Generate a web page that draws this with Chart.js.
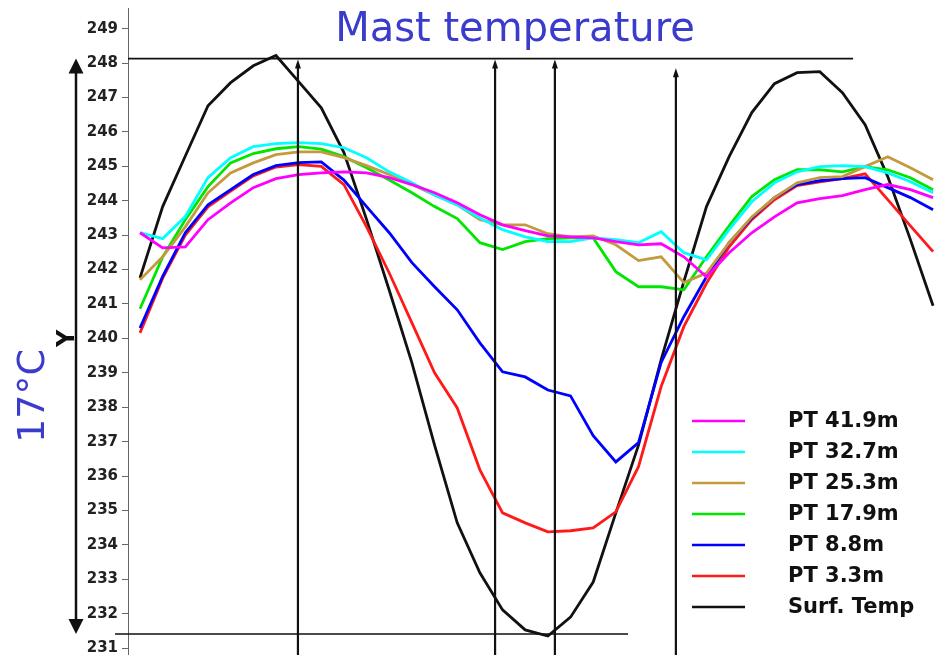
<!DOCTYPE html>
<html>
<head>
<meta charset="utf-8">
<title>Mast temperature</title>
<script src="https://cdn.jsdelivr.net/npm/chart.js@4/dist/chart.umd.min.js"></script>
<style>
  html, body { margin: 0; padding: 0; background: #fff; }
  #wrap { position: relative; width: 941px; height: 655px; }
</style>
</head>
<body>
<div id="wrap"><canvas id="chart"></canvas></div>
<script>
// sample index along the time axis
const steps = [0, 1, 2, 3, 4, 5, 6, 7, 8, 9, 10, 11, 12, 13, 14, 15, 16, 17,
  18, 19, 20, 21, 22, 23, 24, 25, 26, 27, 28, 29, 30, 31, 32, 33, 34, 35];

const yTicks = [231, 232, 233, 234, 235, 236, 237, 238, 239, 240, 241, 242, 243, 244, 245, 246, 247, 248, 249];

const pt419 = [243.07, 242.63, 242.66, 243.45, 243.94, 244.38, 244.64, 244.76, 244.81, 244.84, 244.81, 244.67,
  244.47, 244.23, 243.94, 243.59, 243.3, 243.13, 242.98, 242.95, 242.92, 242.81, 242.72, 242.75,
  242.37, 241.79, 242.49, 243.07, 243.53, 243.94, 244.06, 244.15, 244.32, 244.47, 244.32, 244.09];
const pt327 = [243.07, 242.9, 243.54, 244.67, 245.25, 245.57, 245.66, 245.69, 245.66, 245.54, 245.25, 244.84,
  244.52, 244.17, 243.88, 243.5, 243.16, 242.95, 242.81, 242.81, 242.92, 242.87, 242.78, 243.1,
  242.49, 242.28, 243.16, 243.97, 244.52, 244.84, 244.99, 245.02, 244.99, 244.81, 244.55, 244.23];
const pt253 = [241.7, 242.37, 243.24, 244.23, 244.81, 245.1, 245.34, 245.42, 245.42, 245.25, 245.02, 244.76,
  244.47, 244.17, 243.88, 243.45, 243.3, 243.3, 243.04, 242.95, 242.98, 242.72, 242.26, 242.37,
  241.62, 241.9, 242.78, 243.53, 244.09, 244.52, 244.67, 244.7, 244.99, 245.28, 244.96, 244.61];
const pt179 = [240.86, 242.37, 243.45, 244.41, 245.1, 245.37, 245.51, 245.57, 245.5, 245.28, 244.96, 244.6,
  244.23, 243.83, 243.48, 242.78, 242.58, 242.81, 242.9, 242.92, 242.92, 241.94, 241.5, 241.5,
  241.41, 242.37, 243.27, 244.12, 244.61, 244.9, 244.9, 244.84, 244.99, 244.9, 244.67, 244.32];
const pt88 = [240.3, 241.8, 243.07, 243.88, 244.32, 244.76, 245.02, 245.11, 245.13, 244.6, 243.83, 243.07,
  242.2, 241.5, 240.83, 239.87, 239.03, 238.88, 238.5, 238.33, 237.17, 236.41, 236.97, 239.3,
  240.63, 241.79, 242.78, 243.5, 244.09, 244.47, 244.58, 244.64, 244.67, 244.38, 244.09, 243.74];
const pt33 = [240.16, 241.75, 243.0, 243.82, 244.28, 244.72, 244.98, 245.05, 245.0, 244.47, 243.24, 241.9,
  240.45, 239.0, 237.98, 236.18, 234.93, 234.64, 234.38, 234.41, 234.49, 234.96, 236.27, 238.6,
  240.34, 241.6, 242.66, 243.45, 244.03, 244.44, 244.55, 244.64, 244.78, 244.03, 243.27, 242.52];
const surfTemp = [241.76, 243.83, 245.3, 246.76, 247.43, 247.92, 248.22, 247.46, 246.7, 245.4, 243.45, 241.4,
  239.29, 236.9, 234.64, 233.19, 232.11, 231.53, 231.35, 231.9, 232.92, 234.93, 236.9, 239.38,
  241.65, 243.83, 245.28, 246.56, 247.4, 247.72, 247.75, 247.14, 246.21, 244.7, 242.87, 240.95];

const labels = ['PT 41.9m', 'PT 32.7m', 'PT 25.3m', 'PT 17.9m', 'PT 8.8m', 'PT 3.3m', 'Surf. Temp'];
const colors = ['#ff00ff', '#00ffff', '#c39a3e', '#00e600', '#0000ff', '#ff1a1a', '#111111'];
const series = [pt419, pt327, pt253, pt179, pt88, pt33, surfTemp];

// marker lines (x in sample index, y in axis units)
const markerX = [6.97, 15.67, 18.31, 23.65];
const markerTop = [248.1, 248.1, 248.1, 247.85];
const maxLevel = 248.13, maxLineEnd = 31.47;
const minLevel = 231.41, minLineEnd = 21.54;

const BLUE = '#3b3bcc';

function pts(values) {
  return values.map((v, i) => ({ x: steps[i], y: v }));
}

function arrowHead(ctx, x, y, w, h, dir) {
  ctx.beginPath();
  ctx.moveTo(x, y);
  ctx.lineTo(x - w / 2, y + dir * h);
  ctx.lineTo(x + w / 2, y + dir * h);
  ctx.closePath();
  ctx.fill();
}

const annotations = {
  id: 'annotations',
  afterDatasetsDraw(chart) {
    const ctx = chart.ctx;
    const xs = chart.scales.x, ys = chart.scales.y;
    const area = chart.chartArea;
    ctx.save();
    ctx.strokeStyle = '#111';
    ctx.fillStyle = '#111';

    // horizontal max / min lines
    ctx.lineWidth = 1.6;
    ctx.beginPath();
    ctx.moveTo(area.left, ys.getPixelForValue(maxLevel));
    ctx.lineTo(xs.getPixelForValue(maxLineEnd), ys.getPixelForValue(maxLevel));
    ctx.moveTo(area.left - 13, ys.getPixelForValue(minLevel));
    ctx.lineTo(xs.getPixelForValue(minLineEnd), ys.getPixelForValue(minLevel));
    ctx.stroke();

    // vertical markers with small arrows
    ctx.lineWidth = 2.2;
    markerX.forEach((mx, k) => {
      const px = xs.getPixelForValue(mx);
      const top = ys.getPixelForValue(markerTop[k]);
      ctx.beginPath();
      ctx.moveTo(px, top + 4);
      ctx.lineTo(px, area.bottom);
      ctx.stroke();
      arrowHead(ctx, px, top, 6, 9, 1);
    });

    // big range arrow
    const ax = 76;
    const aTop = ys.getPixelForValue(maxLevel);
    const aBot = ys.getPixelForValue(minLevel);
    ctx.lineWidth = 2.5;
    ctx.beginPath();
    ctx.moveTo(ax, aTop + 10);
    ctx.lineTo(ax, aBot - 10);
    ctx.stroke();
    arrowHead(ctx, ax, aTop, 15, 15, 1);
    arrowHead(ctx, ax, aBot, 15, 15, -1);

    // axis name
    ctx.font = 'bold 24px "DejaVu Sans"';
    ctx.textAlign = 'center';
    ctx.textBaseline = 'middle';
    ctx.save();
    ctx.translate(68, ys.getPixelForValue(240));
    ctx.rotate(-Math.PI / 2);
    ctx.fillText('Y', 0, 0);
    ctx.restore();

    // title and range text
    ctx.fillStyle = BLUE;
    ctx.font = '40px "Comic Sans MS", "DejaVu Sans"';
    ctx.textBaseline = 'alphabetic';
    ctx.fillText('Mast temperature', 515, 41);
    ctx.save();
    ctx.translate(34, 396);
    ctx.rotate(-Math.PI / 2);
    ctx.font = '38px "Comic Sans MS", "DejaVu Sans"';
    ctx.textBaseline = 'middle';
    ctx.fillText('17°C', 0, 0);
    ctx.restore();

    // legend
    ctx.font = 'bold 21px "DejaVu Sans"';
    ctx.textAlign = 'left';
    ctx.textBaseline = 'middle';
    chart.data.datasets.forEach((ds, k) => {
      const ly = 421 + k * 31;
      ctx.strokeStyle = ds.borderColor;
      ctx.lineWidth = 2.5;
      ctx.beginPath();
      ctx.moveTo(692, ly);
      ctx.lineTo(745, ly);
      ctx.stroke();
      ctx.fillStyle = '#111';
      ctx.fillText(ds.label, 788, ly + 1);
    });
    ctx.restore();
  }
};

const data = {
  datasets: series.map((s, k) => ({
    label: labels[k],
    data: pts(s),
    borderColor: colors[k],
    backgroundColor: colors[k],
    borderWidth: 2.8,
    pointRadius: 0,
    tension: 0,
    fill: false,
  })),
};

const config = {
  type: 'line',
  data: data,
  options: {
    responsive: true,
    maintainAspectRatio: false,
    animation: false,
    layout: { padding: { left: 0, top: 8, right: 0, bottom: 0 } },
    plugins: {
      legend: { display: false },
      title: { display: false },
      tooltip: { enabled: false },
    },
    scales: {
      x: {
        type: 'linear',
        min: -0.53,
        max: 35.35,
        display: false,
      },
      y: {
        type: 'linear',
        position: 'left',
        min: 230.8,
        max: 249.6,
        afterFit(scale) {
          scale.width = 128;
          scale.paddingTop = 0;
          scale.paddingBottom = 0;
        },
        afterBuildTicks(scale) { scale.ticks = yTicks.map(v => ({ value: v })); },
        border: { display: true, color: '#666', width: 1 },
        grid: { drawOnChartArea: false, drawTicks: true, tickLength: 6, color: '#666' },
        ticks: {
          padding: 4,
          color: '#222',
          font: { family: '"DejaVu Sans"', size: 15, weight: 'bold' },
        },
      },
    },
  },
  plugins: [annotations],
};

var myChart = new Chart(document.getElementById('chart'), config);
</script>
</body>
</html>
